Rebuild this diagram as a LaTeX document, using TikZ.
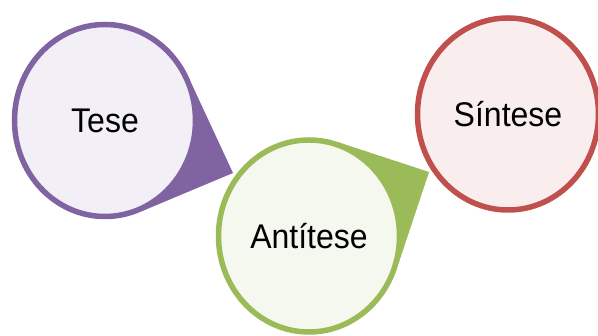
\documentclass[tikz,border=0pt]{standalone}
\usepackage{fontspec}
\setmainfont{Liberation Sans}
\usetikzlibrary{shapes.geometric,backgrounds}

\definecolor{tesecol}{HTML}{8064A2}
\definecolor{anticol}{HTML}{9BBB59}
\definecolor{sintcol}{HTML}{C0504D}

\tikzstyle{bubble}=[ellipse,line width=5.5pt,minimum width=181pt,minimum height=192pt,inner sep=0pt,font=\fontsize{32}{36}\selectfont]
\tikzstyle{tail}=[draw=none]
\newcommand{\tall}[1]{\scalebox{1}[1.07]{#1}}

\begin{document}
\begin{tikzpicture}[x=1pt, y=1pt]
    \useasboundingbox (0,0) rectangle (598,336);
    % First we draw the circles
    \foreach \pos/\name/\txt/\col in {{(105,215.5)/tese/Tese/tesecol}, {(309,100)/antitese/Antítese/anticol}, {(508,222)/sintese/Síntese/sintcol}}
        \node[bubble, draw=\col, fill=\col!10] (\name) at \pos {\tall{\txt}};
    % Tips of the tails
    \coordinate (tesetip) at (233,163);
    \coordinate (antitip) at (429,164);
    % Then the tails, behind the circles
    \begin{pgfonlayer}{background}
    \foreach \name/\tip/\a/\b/\col in {tese/tesetip/23/-68/tesecol, antitese/antitip/73/-17/anticol}
        \path[tail, fill=\col] (\name.center) -- (\name.\a) -- (\tip) -- (\name.\b) -- cycle;
    \end{pgfonlayer}
\end{tikzpicture}
\end{document}
